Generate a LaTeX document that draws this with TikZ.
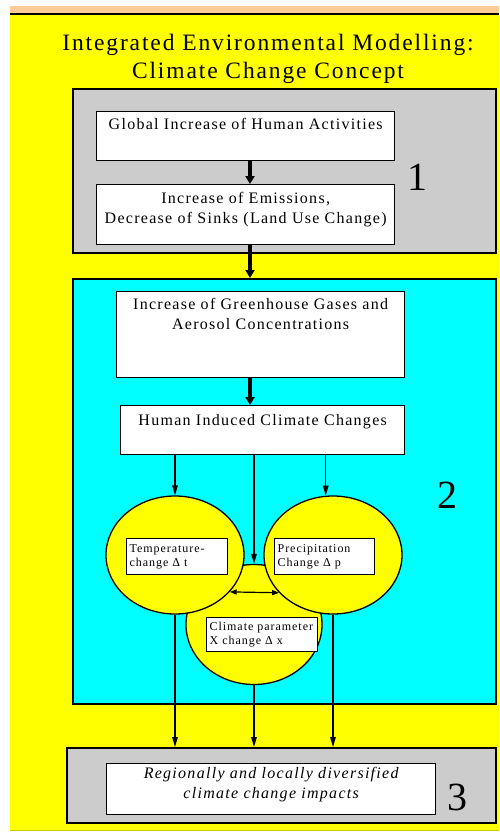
\documentclass[tikz,border=0pt]{standalone}
\usepackage{fontspec}
\setmainfont{Liberation Serif}[LetterSpace=8]
\usetikzlibrary{arrows.meta,shapes.geometric}
\definecolor{kuning}{RGB}{255,255,0}
\definecolor{abu}{RGB}{204,204,204}
\definecolor{sian}{RGB}{0,255,255}
\definecolor{persik}{RGB}{255,204,153}
\begin{document}
\begin{tikzpicture}[x=1pt,y=-1pt,
    bingkai/.style={draw,line width=1.6pt,inner sep=0pt,anchor=north west},
    kotak/.style={draw,line width=1.3pt,fill=white,inner sep=0pt,anchor=north west},
    teks/.style={font=\fontsize{16}{20}\selectfont,align=center,inner sep=0pt,anchor=north},
    kecil/.style={kotak,font=\fontsize{12}{14}\selectfont,align=left,inner xsep=3pt,text width=95pt},
    lonjong/.style={ellipse,draw,line width=1.3pt,fill=kuning,inner sep=0pt},
    angka/.style={font=\fontsize{40}{40}\selectfont,inner sep=0pt},
    tebal/.style={line width=3.5pt,-{Triangle[length=8pt,width=9pt]}},
    tipis/.style={line width=1.2pt,-{Triangle[length=10pt,width=5.5pt]}}]
    \useasboundingbox (0,0) rectangle (499,832);

    % Latar belakang
    \fill[persik] (10,6) rectangle (499,13.5);
    \fill[kuning] (10,15) rectangle (499,830);
    \draw[line width=2pt] (10,14.5) -- (499,14.5);
    \draw[kuning!80!black,line width=1pt] (10,830.5) -- (499,830.5);

    % Judul
    \node[font=\fontsize{23.5}{28}\selectfont,align=center,inner sep=0pt,anchor=north] (judul) at (268,33.5)
        {Integrated Environmental Modelling:\\Climate Change Concept};

    % Bagian 1
    \node[bingkai,fill=abu,minimum width=423pt,minimum height=164pt] (bingkai1) at (72,88) {};
    \node[kotak,minimum width=298pt,minimum height=49pt,
        label={[teks,yshift=-7pt]north:Global Increase of Human Activities}] (aktivitas) at (96,111) {};
    \node[kotak,minimum width=298pt,minimum height=60pt,
        label={[teks,yshift=-8.5pt]north:Increase of Emissions,\\Decrease of Sinks (Land Use Change)}] (emisi) at (96,184) {};
    \node[angka] (satu) at (417,177) {1};

    % Bagian 2
    \node[bingkai,fill=sian,minimum width=423pt,minimum height=425pt] (bingkai2) at (72,278) {};
    \node[kotak,minimum width=288pt,minimum height=86pt,
        label={[teks,yshift=-7.5pt]north:Increase of Greenhouse Gases and\\Aerosol Concentrations}] (gasrumah) at (116,291) {};
    \node[kotak,minimum width=284pt,minimum height=49pt,
        label={[teks,yshift=-9.5pt]north:Human Induced Climate Changes}] (perubahan) at (120,405) {};
    \node[angka] (dua) at (447,495) {2};

    % Lingkaran parameter iklim
    \node[lonjong,minimum width=136pt,minimum height=120pt] (lain) at (254,624.5) {};
    \node[lonjong,minimum width=138pt,minimum height=118pt] (suhu) at (175,555) {};
    \node[lonjong,minimum width=138pt,minimum height=118pt] (hujan) at (333,555) {};
    \node[kecil,minimum height=36pt] (tsuhu) at (126,538) {Temperature-\\change Δ t};
    \node[kecil,minimum height=36pt,text width=94pt] (thujan) at (274,538) {Precipitation\\Change Δ p};
    \node[kecil,minimum height=34pt,text width=105pt] (tlain) at (206,617) {Climate parameter\\X change Δ x};

    % Bagian 3
    \node[bingkai,fill=abu,minimum width=429pt,minimum height=75pt] (bingkai3) at (66,747) {};
    \node[kotak,minimum width=329pt,minimum height=51pt,
        label={[teks,yshift=-4.5pt]north:\itshape Regionally and locally diversified\\\itshape climate change impacts}] (dampak) at (106,763) {};
    \node[angka] (tiga) at (457,797) {3};

    % Panah
    \coordinate (poros) at (250,0);
    \draw[tebal] (poros |- aktivitas.south) -- (poros |- emisi.north);
    \draw[tebal] (poros |- emisi.south) -- (poros |- bingkai2.north);
    \draw[tebal] (poros |- gasrumah.south) -- (poros |- perubahan.north);
    \draw[tipis] (perubahan.south -| suhu.north) -- (suhu.north);
    \draw[tipis] (perubahan.south -| lain.north) -- (lain.north);
    \draw[tipis] (perubahan.south -| hujan.97) -- (hujan.97);
    \draw[line width=1.2pt,{Triangle[length=7pt,width=5pt]}-{Triangle[length=7pt,width=5pt]}]
        (suhu.-34.6) -- (hujan.-145.4);
    \draw[tipis] (suhu.south) -- (suhu.south |- bingkai3.north);
    \draw[tipis] (lain.south) -- (lain.south |- bingkai3.north);
    \draw[tipis] (hujan.south) -- (hujan.south |- bingkai3.north);
\end{tikzpicture}
\end{document}
